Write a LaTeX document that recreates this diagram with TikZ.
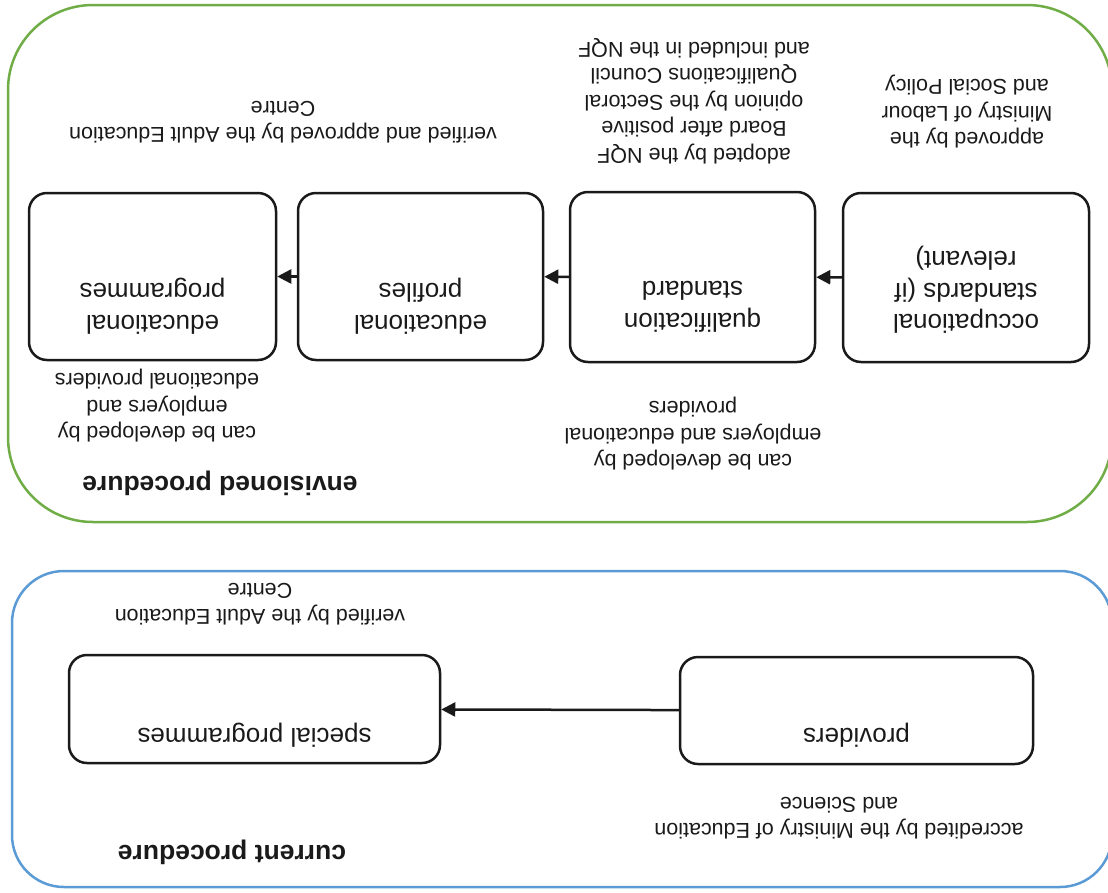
\documentclass[tikz,border=0pt]{standalone}
\usepackage{fontspec}
\setmainfont{Liberation Sans}
\setsansfont{Liberation Sans}
\usetikzlibrary{arrows.meta, positioning}

\definecolor{envgreen}{RGB}{112,173,71}
\definecolor{curblue}{RGB}{91,155,213}
\definecolor{boxline}{RGB}{26,26,26}

\begin{document}
\begin{tikzpicture}[x=1pt, y=-1pt,
  upside/.style={rotate=180},
  stepbox/.style={upside, draw=boxline, line width=2.5pt, rounded corners=18pt},
  boxtext/.style={upside, align=center, text=boxline, font=\sffamily\fontsize{26}{31.5}\selectfont},
  remark/.style={upside, align=center, text=boxline, font=\sffamily\fontsize{21.5}{26.5}\selectfont},
  procname/.style={upside, text=boxline, font=\sffamily\fontsize{26.5}{31}\selectfont\bfseries},
  link/.style={draw=boxline, line width=2.5pt, -{Triangle[length=14pt,width=14pt]}}]
\useasboundingbox (0,0) rectangle (1108,892);

% envisioned procedure (green frame)
\draw[envgreen, line width=2.5pt, rounded corners=85pt] (8,5) rectangle (1112,522);
\node[stepbox, minimum width=246, minimum height=169] (occ) at (966,277.5) {};
\node[stepbox, minimum width=245, minimum height=170] (qual) at (692.5,277) {};
\node[stepbox, minimum width=245, minimum height=167] (prof) at (420.5,276.5) {};
\node[stepbox, minimum width=247, minimum height=167] (prog) at (152.5,276.5) {};
\node[boxtext] (occ-t) at (966,290) {occupational\\standards (if\\relevant)};
\node[boxtext] (qual-t) at (692.5,307) {qualification\\standard};
\node[boxtext] (prof-t) at (420.5,306) {educational\\profiles};
\node[boxtext] (prog-t) at (152.5,306) {educational\\programmes};
\draw[link] (occ) -- (qual);
\draw[link] (qual) -- (prof);
\draw[link] (prof) -- (prog);
\node[remark] (occ-r) at (967,112) {approved by the\\Ministry of Labour\\and Social Policy};
\node[remark] (qual-r) at (694,101) {adopted by the NQF\\Board after positive\\opinion by the Sectoral\\Qualifications Council\\and included in the NQF};
\node[remark] (prog-r) at (283,122) {verified and approved by the Adult Education\\Centre};
\node[remark] (qual-d) at (693,434) {can be developed by\\employers and educational\\providers};
\node[remark] (prog-d) at (157,406) {can be developed by\\employers and\\educational providers};
\node[procname] (env) at (220,483) {envisioned procedure};

% current procedure (blue frame)
\draw[curblue, line width=2.5pt, rounded corners=52pt] (12,571) rectangle (1112,887);
\node[stepbox, minimum width=353, minimum height=107] (prov) at (856.5,710.5) {};
\node[stepbox, minimum width=371, minimum height=108] (spec) at (254.5,709) {};
\node[boxtext] (prov-t) at (856.5,735) {providers};
\node[boxtext] (spec-t) at (254.5,735) {special programmes};
\draw[link] (prov) -- (spec);
\node[remark] (spec-r) at (260,604) {verified by the Adult Education\\Centre};
\node[remark] (prov-r) at (839,818) {accredited by the Ministry of Education\\and Science};
\node[procname] (cur) at (232,852) {current procedure};
\end{tikzpicture}
\end{document}
